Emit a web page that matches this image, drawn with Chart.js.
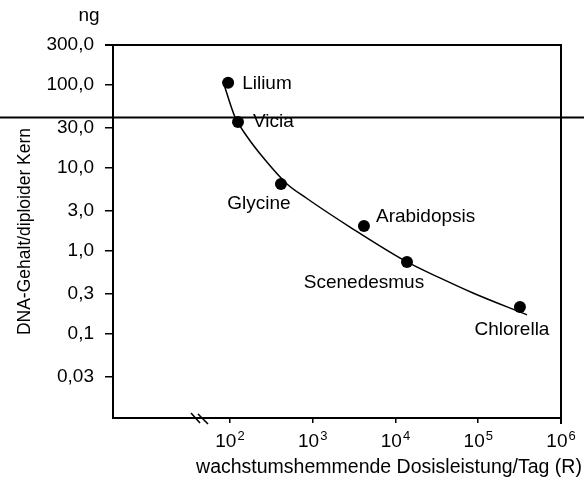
<!DOCTYPE html>
<html>
<head>
<meta charset="utf-8">
<script src="https://cdn.jsdelivr.net/npm/chart.js@4/dist/chart.umd.min.js"></script>
<style>
  html, body { margin: 0; padding: 0; background: #fff; }
  #wrap { width: 584px; height: 484px; }
</style>
</head>
<body>
<div id="wrap"><canvas id="c" width="584" height="484"></canvas></div>
<script>
// Species and their growth-inhibiting dose rate vs. DNA content per diploid nucleus
const speciesNames = ['Lilium', 'Vicia', 'Glycine', 'Arabidopsis', 'Scenedesmus', 'Chlorella'];
const doseRate = [95, 125, 413, 4160, 13770, 319000];
const dnaContent = [105, 35.4, 6.35, 1.98, 0.73, 0.209];

// Fitted trend curve
const curveDose = [82.3, 115, 156, 265, 489, 851, 2820, 13770, 34400, 86300, 388000];
const curveDna = [110, 40.7, 24.7, 12.4, 6.34, 4.24, 1.92, 0.729, 0.468, 0.308, 0.168];

// Axis ticks
const yTickValues = [0.03, 0.1, 0.3, 1, 3, 10, 30, 100, 300];
const yTickLabels = ['0,03', '0,1', '0,3', '1,0', '3,0', '10,0', '30,0', '100,0', '300,0'];
const xTickValues = [100, 1000, 10000, 100000, 1000000];
const xTickBase = '10';
const xTickExponents = ['2', '3', '4', '5', '6'];

// Ruled line running across the sheet
const ruleValue = 40;

const FONT = "'Liberation Sans', Arial, Helvetica, sans-serif";
Chart.defaults.font.family = FONT;
Chart.defaults.color = '#000';

// label placement relative to each point: [dx, dy, align]
const labelPlacement = [
  [14, 1, 'left'],
  [15, 0, 'left'],
  [-22, 20, 'center'],
  [12, -9, 'left'],
  [-43, 21, 'center'],
  [-8, 23, 'center']
];

const decorations = {
  id: 'decorations',
  afterDatasetsDraw(chart) {
    const { ctx, chartArea: a, scales } = chart;
    ctx.save();
    // top and right frame
    ctx.strokeStyle = '#000';
    ctx.lineWidth = 2;
    ctx.beginPath();
    ctx.moveTo(a.left - 8, a.top);
    ctx.lineTo(a.right, a.top);
    ctx.lineTo(a.right, a.bottom + 6);
    ctx.stroke();

    // axis break marks
    ctx.lineWidth = 1.6;
    const bx = 193, by = a.bottom;
    ctx.beginPath();
    ctx.moveTo(bx - 2, by - 5); ctx.lineTo(bx + 7, by + 5);
    ctx.moveTo(bx + 5, by - 4); ctx.lineTo(bx + 15, by + 6);
    ctx.stroke();

    // ruled line
    const ry = scales.y.getPixelForValue(ruleValue);
    ctx.lineWidth = 2;
    ctx.beginPath();
    ctx.moveTo(0, ry); ctx.lineTo(chart.width, ry);
    ctx.stroke();

    ctx.fillStyle = '#000';
    ctx.textBaseline = 'alphabetic';

    // x tick labels as powers of ten
    xTickValues.forEach((v, i) => {
      const px = scales.x.getPixelForValue(v);
      ctx.font = '19px ' + FONT;
      const wb = ctx.measureText(xTickBase).width;
      ctx.font = '13px ' + FONT;
      const we = ctx.measureText(xTickExponents[i]).width;
      const x0 = px - (wb + we + 1) / 2;
      ctx.font = '19px ' + FONT;
      ctx.textAlign = 'left';
      ctx.fillText(xTickBase, x0, a.bottom + 29);
      ctx.font = '13px ' + FONT;
      ctx.fillText(xTickExponents[i], x0 + wb + 1, a.bottom + 22);
    });

    // species labels
    const meta = chart.getDatasetMeta(0);
    ctx.font = '19px ' + FONT;
    ctx.textBaseline = 'middle';
    meta.data.forEach((pt, i) => {
      const [dx, dy, align] = labelPlacement[i];
      ctx.textAlign = align;
      ctx.fillText(speciesNames[i], pt.x + dx, pt.y + dy);
    });

    // unit and x-axis title
    ctx.textAlign = 'center';
    ctx.fillText('ng', 89, 16);
    ctx.font = '19.5px ' + FONT;
    ctx.fillText('wachstumshemmende Dosisleistung/Tag (R)', 389, 468);
    ctx.restore();
  }
};

new Chart(document.getElementById('c'), {
  type: 'scatter',
  data: {
    datasets: [
      {
        label: 'Arten',
        data: doseRate.map((x, i) => ({ x, y: dnaContent[i] })),
        pointRadius: 6,
        pointHoverRadius: 6,
        backgroundColor: '#000',
        borderWidth: 0,
        showLine: false
      },
      {
        label: 'Kurve',
        data: curveDose.map((x, i) => ({ x, y: curveDna[i] })),
        showLine: true,
        pointRadius: 0,
        borderColor: '#000',
        borderWidth: 1.5,
        cubicInterpolationMode: 'monotone',
        fill: false
      }
    ]
  },
  options: {
    responsive: false,
    animation: false,
    devicePixelRatio: 1,
    layout: { padding: { top: 45, right: 23, left: 0, bottom: 0 } },
    plugins: { legend: { display: false }, tooltip: { enabled: false } },
    scales: {
      x: {
        type: 'logarithmic',
        min: 3.86,
        max: 1000000,
        bounds: 'data',
        afterBuildTicks: s => { s.ticks = xTickValues.map(v => ({ value: v })); },
        afterFit: s => { s.height = 66; s.paddingLeft = 0; s.paddingRight = 0; },
        ticks: { display: false, autoSkip: false, maxRotation: 0 },
        grid: { drawOnChartArea: false, drawTicks: true, tickLength: 5, color: '#000', lineWidth: 1.5 },
        border: { display: true, color: '#000', width: 2 }
      },
      y: {
        type: 'logarithmic',
        min: 0.0096,
        max: 300,
        bounds: 'data',
        afterBuildTicks: s => { s.ticks = yTickValues.map(v => ({ value: v })); },
        afterFit: s => { s.width = 113; s.paddingTop = 0; s.paddingBottom = 0; },
        ticks: {
          autoSkip: false,
          padding: 11,
          font: { size: 19 },
          color: '#000',
          callback: v => { const i = yTickValues.indexOf(v); return i >= 0 ? yTickLabels[i] : ''; }
        },
        grid: { drawOnChartArea: false, drawTicks: true, tickLength: 8, color: '#000', lineWidth: 1.5 },
        border: { display: true, color: '#000', width: 2 },
        title: {
          display: true,
          text: 'DNA-Gehalt/diploider Kern',
          font: { size: 17.5 },
          color: '#000',
          padding: { top: 15, bottom: 0 }
        }
      }
    }
  },
  plugins: [decorations]
});
</script>
</body>
</html>
